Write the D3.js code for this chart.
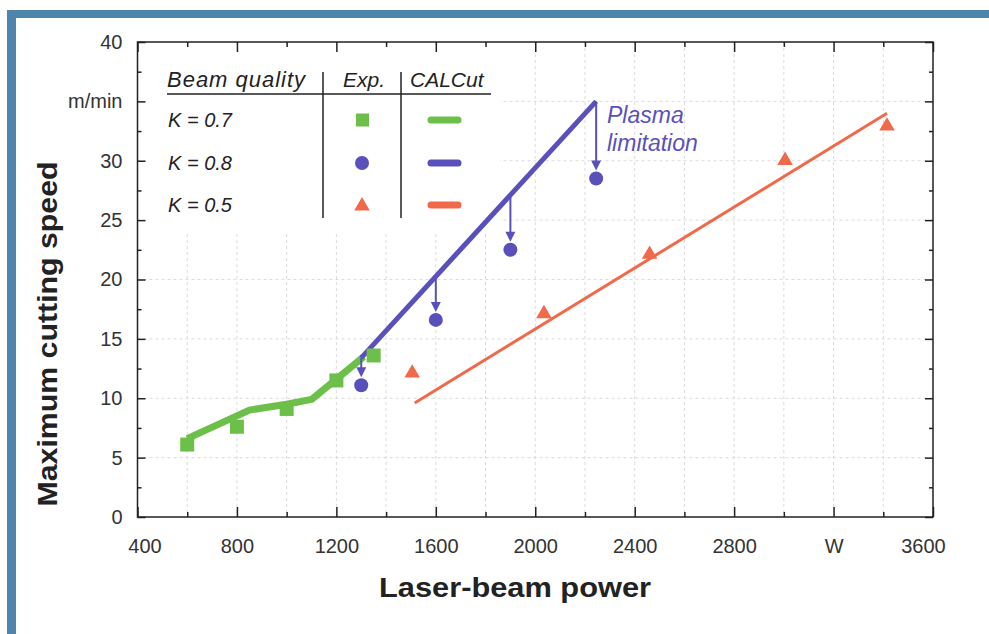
<!DOCTYPE html>
<html>
<head>
<meta charset="utf-8">
<script src="https://cdn.jsdelivr.net/npm/d3@7"></script>
<style>
  body { margin: 0; background: #ffffff; }
  text { font-family: "Liberation Sans", Arial, sans-serif; }
</style>
</head>
<body>
<div id="graph"></div>
<script>
// tick values and labels
var xTicks = [400, 800, 1200, 1600, 2000, 2400, 2800, 3200, 3600];
var xTickLabels = ["400", "800", "1200", "1600", "2000", "2400", "2800", "W", "3600"];
var yTicks = [0, 5, 10, 15, 20, 25, 30, 35, 40];
var yTickLabels = ["0", "5", "10", "15", "20", "25", "30", "m/min", "40"];

// K = 0.7 (green)
var k07Exp = [[600, 6.1], [800, 7.6], [1000, 9.1], [1200, 11.5], [1350, 13.6]];
var k07Calc = [[600, 6.6], [850, 9.0], [1000, 9.5], [1100, 9.9], [1310, 13.5]];
// K = 0.8 (blue)
var k08Exp = [[1300, 11.1], [1600, 16.6], [1900, 22.5], [2245, 28.5]];
var k08Calc = [[1300, 13.4], [2245, 35.0]];
// K = 0.5 (red)
var k05Exp = [[1505, 12.2], [2035, 17.2], [2460, 22.2], [3005, 30.1], [3415, 33.0]];
var k05Calc = [[1515, 9.6], [3415, 34.0]];

var legendRows = ["K = 0.7", "K = 0.8", "K = 0.5"];

var green = "#6cc04a",
  blue = "#5a50bc",
  red = "#f06a4a";

var W = 989,
  H = 634;

var svg = d3
  .select("#graph")
  .append("svg")
  .attr("width", W)
  .attr("height", H);

// blue frame
svg.append("rect").attr("x", 7).attr("y", 10).attr("width", W - 7).attr("height", 8).attr("fill", "#4f84ad");
svg.append("rect").attr("x", 7).attr("y", 10).attr("width", 9).attr("height", H - 10).attr("fill", "#4f84ad");

// scales
var x = d3.scaleLinear().domain([400, 3600]).range([137.5, 933]);
var y = d3.scaleLinear().domain([0, 40]).range([517, 42]);

// grid
var gx = d3.range(600, 3600, 200);
var gy = d3.range(5, 40, 5);
svg
  .selectAll(".gridx")
  .data(gx)
  .enter()
  .append("line")
  .attr("x1", function(d) { return x(d); })
  .attr("x2", function(d) { return x(d); })
  .attr("y1", y(40))
  .attr("y2", y(0))
  .attr("stroke", "#dadada")
  .attr("stroke-dasharray", "3,3");
svg
  .selectAll(".gridy")
  .data(gy)
  .enter()
  .append("line")
  .attr("x1", x(400))
  .attr("x2", x(3600))
  .attr("y1", function(d) { return y(d); })
  .attr("y2", function(d) { return y(d); })
  .attr("stroke", "#dadada")
  .attr("stroke-dasharray", "3,3");

// legend background hides grid
svg.append("rect").attr("x", 145).attr("y", 45).attr("width", 355).attr("height", 188).attr("fill", "#ffffff");

// axes: major and minor ticks pointing inward
var xMinor = d3.range(600, 3600, 400);
var yMinor = d3.range(2.5, 40, 5);

function styleAxis(g) {
  g.select(".domain").remove();
  g.selectAll("line").attr("stroke", "#222").attr("stroke-width", 1.5);
  g.selectAll("text").style("font-size", "20px").attr("fill", "#333");
}

svg
  .append("g")
  .attr("transform", "translate(0," + y(0) + ")")
  .call(
    d3.axisBottom(x).tickValues(xTicks).tickSizeInner(-10).tickSizeOuter(0).tickPadding(22)
      .tickFormat(function(d, i) { return xTickLabels[i]; })
  )
  .call(styleAxis)
  .selectAll("text")
  .attr("dx", function(d, i) { return i == 0 ? 7 : i == xTicks.length - 1 ? -10 : 0; });
svg
  .append("g")
  .attr("transform", "translate(0," + y(0) + ")")
  .call(d3.axisBottom(x).tickValues(xMinor).tickSize(-5).tickFormat(""))
  .call(styleAxis);
svg
  .append("g")
  .attr("transform", "translate(0," + y(40) + ")")
  .call(d3.axisTop(x).tickValues(xTicks).tickSize(-10).tickFormat(""))
  .call(styleAxis);
svg
  .append("g")
  .attr("transform", "translate(0," + y(40) + ")")
  .call(d3.axisTop(x).tickValues(xMinor).tickSize(-5).tickFormat(""))
  .call(styleAxis);

svg
  .append("g")
  .attr("transform", "translate(" + x(400) + ",0)")
  .call(
    d3.axisLeft(y).tickValues(yTicks).tickSizeInner(-8).tickSizeOuter(0).tickPadding(15)
      .tickFormat(function(d, i) { return yTickLabels[i]; })
  )
  .call(styleAxis);
svg
  .append("g")
  .attr("transform", "translate(" + x(400) + ",0)")
  .call(d3.axisLeft(y).tickValues(yMinor).tickSize(-4).tickFormat(""))
  .call(styleAxis);
svg
  .append("g")
  .attr("transform", "translate(" + x(3600) + ",0)")
  .call(d3.axisRight(y).tickValues(yTicks).tickSize(-8).tickFormat(""))
  .call(styleAxis);
svg
  .append("g")
  .attr("transform", "translate(" + x(3600) + ",0)")
  .call(d3.axisRight(y).tickValues(yMinor).tickSize(-4).tickFormat(""))
  .call(styleAxis);

// frame of the plot
svg
  .append("rect")
  .attr("x", x(400))
  .attr("y", y(40))
  .attr("width", x(3600) - x(400))
  .attr("height", y(0) - y(40))
  .attr("fill", "none")
  .attr("stroke", "#222")
  .attr("stroke-width", 1.5);

// axis titles
svg
  .append("text")
  .attr("x", 515)
  .attr("y", 597)
  .attr("text-anchor", "middle")
  .attr("textLength", 272)
  .attr("lengthAdjust", "spacingAndGlyphs")
  .style("font-size", "28px")
  .style("font-weight", "bold")
  .attr("fill", "#222")
  .text("Laser-beam power");

svg
  .append("text")
  .attr("transform", "translate(57,334) rotate(-90)")
  .attr("text-anchor", "middle")
  .attr("textLength", 345)
  .attr("lengthAdjust", "spacingAndGlyphs")
  .style("font-size", "28px")
  .style("font-weight", "bold")
  .attr("fill", "#222")
  .text("Maximum cutting speed");

// CALCut lines
var valueline = d3
  .line()
  .x(function(d) { return x(d[0]); })
  .y(function(d) { return y(d[1]); });

svg.append("path").datum(k07Calc).attr("d", valueline).attr("fill", "none")
  .attr("stroke", green).attr("stroke-width", 7).attr("stroke-linejoin", "round");
svg.append("path").datum(k05Calc).attr("d", valueline).attr("fill", "none")
  .attr("stroke", red).attr("stroke-width", 3);
svg.append("path").datum(k08Calc).attr("d", valueline).attr("fill", "none")
  .attr("stroke", blue).attr("stroke-width", 5);

// plasma limitation arrows from the calc line down to each measured point
var onLine = d3.scaleLinear().domain(k08Calc.map(function(d) { return d[0]; }))
  .range(k08Calc.map(function(d) { return d[1]; }));
var arrows = svg.selectAll(".arrow").data(k08Exp).enter().append("g");
arrows
  .append("line")
  .attr("x1", function(d) { return x(d[0]); })
  .attr("x2", function(d) { return x(d[0]); })
  .attr("y1", function(d) { return y(onLine(d[0])); })
  .attr("y2", function(d) { return y(d[1]) - 12; })
  .attr("stroke", blue)
  .attr("stroke-width", 2);
arrows
  .append("path")
  .attr("d", function(d) {
    var px = x(d[0]), py = y(d[1]) - 8;
    return "M" + (px - 5) + "," + (py - 10) + "L" + (px + 5) + "," + (py - 10) + "L" + px + "," + py + "Z";
  })
  .attr("fill", blue);

// experimental points
var sym = 14;
svg.selectAll(".sq").data(k07Exp).enter().append("rect")
  .attr("x", function(d) { return x(d[0]) - sym / 2; })
  .attr("y", function(d) { return y(d[1]) - sym / 2; })
  .attr("width", sym).attr("height", sym)
  .attr("fill", green);
svg.selectAll(".dot").data(k08Exp).enter().append("circle")
  .attr("cx", function(d) { return x(d[0]); })
  .attr("cy", function(d) { return y(d[1]); })
  .attr("r", 7)
  .attr("fill", blue);
var tri = d3.symbol().type(d3.symbolTriangle).size(105);
svg.selectAll(".tri").data(k05Exp).enter().append("path")
  .attr("d", tri)
  .attr("transform", function(d) { return "translate(" + x(d[0]) + "," + (y(d[1]) + 1) + ")"; })
  .attr("fill", red);

// plasma label
svg.append("text").attr("x", 607).attr("y", 123).style("font-size", "23px")
  .style("font-style", "italic").attr("fill", blue).text("Plasma");
svg.append("text").attr("x", 607).attr("y", 151).style("font-size", "23px")
  .style("font-style", "italic").attr("fill", blue).text("limitation");

// legend table
var legend = svg.append("g");
legend.append("text").attr("x", 167).attr("y", 87).style("font-size", "22px")
  .attr("textLength", 138)
  .style("font-style", "italic").attr("fill", "#222").text("Beam quality");
legend.append("text").attr("x", 343).attr("y", 87).style("font-size", "21px")
  .style("font-style", "italic").attr("fill", "#222").text("Exp.");
legend.append("text").attr("x", 410).attr("y", 87).style("font-size", "21px")
  .style("font-style", "italic").attr("fill", "#222").text("CALCut");
legend.append("line").attr("x1", 167).attr("x2", 491).attr("y1", 94).attr("y2", 94)
  .attr("stroke", "#222").attr("stroke-width", 1.5);
legend.append("line").attr("x1", 323).attr("x2", 323).attr("y1", 72).attr("y2", 218)
  .attr("stroke", "#222").attr("stroke-width", 1.5);
legend.append("line").attr("x1", 401).attr("x2", 401).attr("y1", 72).attr("y2", 218)
  .attr("stroke", "#222").attr("stroke-width", 1.5);

var rowY = [120, 163, 205];
var rowColor = [green, blue, red];
legend.selectAll(".lab").data(legendRows).enter().append("text")
  .attr("x", 168)
  .attr("y", function(d, i) { return rowY[i] + 7; })
  .style("font-size", "20px")
  .style("font-style", "italic")
  .attr("fill", "#222")
  .text(function(d) { return d; });
legend.selectAll(".seg").data(rowColor).enter().append("line")
  .attr("x1", 431).attr("x2", 458)
  .attr("y1", function(d, i) { return rowY[i]; })
  .attr("y2", function(d, i) { return rowY[i]; })
  .attr("stroke", function(d) { return d; })
  .attr("stroke-width", 7)
  .attr("stroke-linecap", "round");
legend.append("rect").attr("x", 356).attr("y", rowY[0] - 6.5).attr("width", 13).attr("height", 13).attr("fill", green);
legend.append("circle").attr("cx", 362).attr("cy", rowY[1]).attr("r", 7).attr("fill", blue);
legend.append("path").attr("d", tri).attr("transform", "translate(362," + (rowY[2] + 1) + ")").attr("fill", red);
</script>
</body>
</html>
